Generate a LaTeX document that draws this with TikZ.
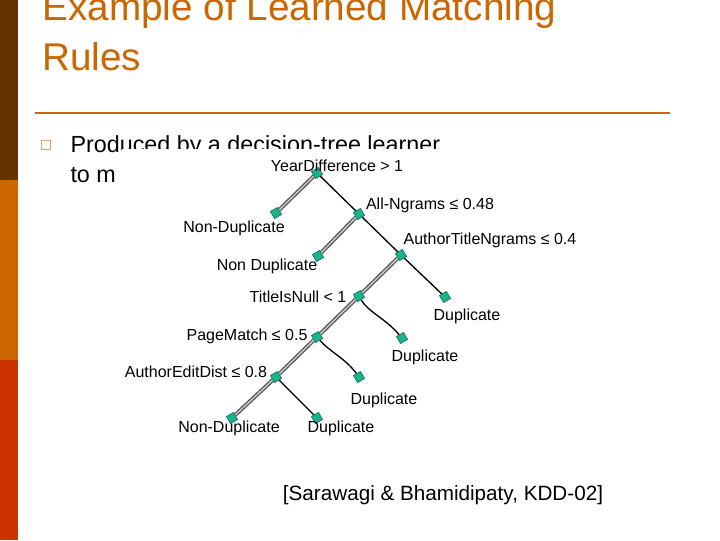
\documentclass[tikz,border=0pt]{standalone}
\usepackage{fontspec}
\setmainfont{Liberation Sans}
\usepackage{amssymb}
\definecolor{slideorange}{RGB}{204,102,0}
\definecolor{bardark}{RGB}{102,51,0}
\definecolor{barmid}{RGB}{204,102,0}
\definecolor{barred}{RGB}{204,51,0}
\definecolor{leafgreen}{RGB}{26,179,140}
\tikzset{every picture/.style={line width=0.75pt}}
\tikzset{
  leaf/.style={fill=leafgreen, draw=leafgreen!70!black, line width=0.4pt, minimum size=6pt, inner sep=0pt, rotate=30, shape=rectangle},
  nobranch/.style={draw=gray!70!black, line width=3pt},
  nobranchin/.style={draw=gray!40, line width=1pt},
  yesbranch/.style={draw=black, line width=1pt},
  tlabel/.style={font=\fontsize{12}{14}\selectfont, inner sep=0pt}
}
\newcommand{\nobr}[2]{\draw[nobranch] (#1) -- (#2); \draw[nobranchin] (#1) -- (#2);}
\begin{document}
\begin{tikzpicture}[x=0.75pt,y=0.75pt,yscale=-1,xscale=1]
\useasboundingbox (0,0) rectangle (720,540);
\fill[white] (0,0) rectangle (720,540);

% Side bar
\fill[bardark] (0,0) rectangle (18,180);
\fill[barmid] (0,180) rectangle (18,360);
\fill[barred] (0,360) rectangle (18,540);

% Title
\draw (42,10) node [anchor=west, inner sep=0pt, color=slideorange, font=\fontsize{29}{34}\selectfont] {Example of Learned Matching};
\draw (42,57) node [anchor=west, inner sep=0pt, color=slideorange, font=\fontsize{29}{34}\selectfont] {Rules};
\draw[slideorange, line width=2pt] (35,113) -- (670,113);

% Bullet text
\draw (46,146) node [color=slideorange, font=\fontsize{11}{13}\selectfont] {$\square$};
\draw (70,146) node [anchor=west, inner sep=0pt, font=\fontsize{17.5}{21}\selectfont] {Produced by a decision-tree learner};
\draw (70,175) node [anchor=west, inner sep=0pt, font=\fontsize{17.5}{21}\selectfont] {to m};
\fill[white] (122,149) rectangle (600,440);

% Tree nodes
\node[leaf] (year) at (317,173) {};
\node[leaf] (nd1) at (276,213) {};
\node[leaf] (alln) at (359,214) {};
\node[leaf] (nd2) at (318,256) {};
\node[leaf] (atn) at (401,255) {};
\node[leaf] (d1) at (445,297) {};
\node[leaf] (tin) at (359,296) {};
\node[leaf] (d2) at (402,338) {};
\node[leaf] (pm) at (317,337) {};
\node[leaf] (d3) at (359,377) {};
\node[leaf] (aed) at (276,377) {};
\node[leaf] (nd3) at (232,418) {};
\node[leaf] (d4) at (317,418) {};

% Branches
\nobr{year}{nd1}
\nobr{alln}{nd2}
\nobr{atn}{tin}
\nobr{tin}{pm}
\nobr{pm}{aed}
\nobr{aed}{nd3}
\draw[yesbranch] (year) -- (alln);
\draw[yesbranch] (alln) -- (atn);
\draw[yesbranch] (atn) -- (d1);
\draw[yesbranch] (tin) .. controls (368,312) and (385,318) .. (d2);
\draw[yesbranch] (pm) .. controls (330,352) and (345,358) .. (d3);
\draw[yesbranch] (aed) -- (d4);
\foreach \n in {year,nd1,alln,nd2,atn,d1,tin,d2,pm,d3,aed,nd3,d4}
  \node[leaf] at (\n) {};

% Labels
\node[tlabel] (lyear) at (337,166) {YearDifference > 1};
\node[tlabel] (lnd1) at (234,228) {Non-Duplicate};
\node[tlabel] (lalln) at (430,205) {All-Ngrams ≤ 0.48};
\node[tlabel] (lnd2) at (267,266) {Non Duplicate};
\node[tlabel] (latn) at (490,240) {AuthorTitleNgrams ≤ 0.4};
\node[tlabel] (ld1) at (467,316) {Duplicate};
\node[tlabel] (ltin) at (298,297) {TitleIsNull < 1};
\node[tlabel] (ld2) at (425,357) {Duplicate};
\node[tlabel] (lpm) at (247,336) {PageMatch ≤ 0.5};
\node[tlabel] (ld3) at (384,400) {Duplicate};
\node[tlabel] (laed) at (196,372) {AuthorEditDist ≤ 0.8};
\node[tlabel] (lnd3) at (229,428) {Non-Duplicate};
\node[tlabel] (ld4) at (341,428) {Duplicate};

% Citation
\draw (443,495) node [font=\fontsize{15.5}{18}\selectfont] {[Sarawagi \& Bhamidipaty, KDD-02]};
\end{tikzpicture}
\end{document}
